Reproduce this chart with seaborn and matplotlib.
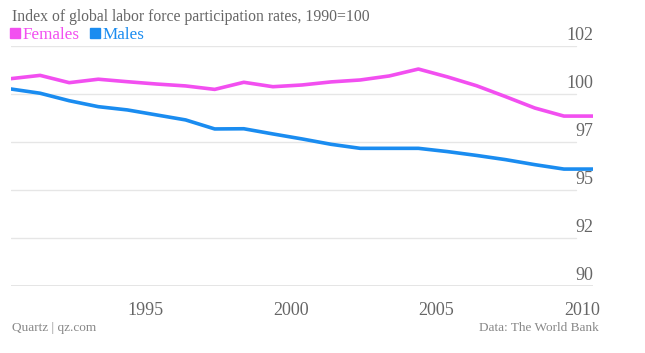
import matplotlib
matplotlib.use("Agg")
import matplotlib.pyplot as plt
from matplotlib.lines import Line2D
import pandas as pd
import seaborn as sns

years = list(range(1991, 2012))
females = [100.80, 100.97, 100.59, 100.77, 100.64, 100.52, 100.42, 100.24, 100.61, 100.38,
           100.47, 100.63, 100.73, 100.94, 101.30, 100.89, 100.43, 99.86, 99.27, 98.85, 98.85]
males = [100.26, 100.04, 99.65, 99.34, 99.17, 98.91, 98.65, 98.18, 98.19, 97.92,
         97.66, 97.38, 97.17, 97.17, 97.17, 97.00, 96.80, 96.58, 96.32, 96.09, 96.09]
grid_vals = [102.5, 100, 97.5, 95, 92.5, 90]
grid_labels = ["102", "100", "97", "95", "92", "90"]
xticks = [1995, 2000, 2005, 2010]

pink = "#f24ff0"
blue = "#1a8cf0"
grey = "#666666"

df = pd.DataFrame({"year": years * 2,
                   "value": females + males,
                   "sex": ["Females"] * len(years) + ["Males"] * len(years)})

sns.set_theme(style="white")
plt.rcParams["font.family"] = ["Liberation Serif", "DejaVu Sans"]

fig = plt.figure(figsize=(6.45, 3.53), dpi=100)
ax = fig.add_axes([11 / 645, 1 - 286 / 353, (593 - 11) / 645, (286 - 46) / 353])

for v in grid_vals[:-1]:
    ax.axhline(v, xmin=0, xmax=0.97, color="#e6e6e6", lw=1, zorder=0)
ax.axhline(90, color="#e0e0e0", lw=1.2, zorder=0)

sns.lineplot(data=df, x="year", y="value", hue="sex", palette=[pink, blue],
             lw=2.6, ax=ax, legend=False)

ax.set_xlim(1991, 2011)
ax.set_ylim(90, 102.5)
for s in ax.spines.values():
    s.set_visible(False)
ax.set_xticks(xticks)
ax.set_xticklabels([])
ax.set_yticks([])
ax.set_xlabel("")
ax.set_ylabel("")
ax.tick_params(axis="x", length=4, width=0.6, color="#e0e0e0", direction="out", pad=0)

for x in xticks:
    ax.text(x, -0.065, str(x), transform=ax.get_xaxis_transform(), ha="left", va="top",
            fontsize=13, color=grey)

for v, lab in zip(grid_vals, grid_labels):
    ax.text(1.0, v + 0.12, lab, transform=ax.get_yaxis_transform(), ha="right", va="bottom",
            fontsize=13, color=grey)

fig.text(12 / 645, 1 - 17 / 353, "Index of global labor force participation rates, 1990=100",
         ha="left", va="center", fontsize=11.3, color=grey)

handles = [Line2D([], [], marker="s", ls="none", color=pink, markersize=7.5),
           Line2D([], [], marker="s", ls="none", color=blue, markersize=7.5)]
leg = fig.legend(handles, ["Females", "Males"], loc="center left",
                 bbox_to_anchor=(9 / 645, 1 - 35 / 353), ncol=2, frameon=False,
                 borderpad=0, borderaxespad=0,
                 handletextpad=0.05, columnspacing=0.55, handlelength=0.75, fontsize=12.3)
for t, c in zip(leg.get_texts(), [pink, blue]):
    t.set_color(c)

fig.text(12 / 645, 1 - 328 / 353, "Quartz | qz.com", ha="left", va="center",
         fontsize=9.5, color="#888888")
fig.text(599 / 645, 1 - 328 / 353, "Data: The World Bank", ha="right", va="center",
         fontsize=9.5, color="#888888")

fig.savefig("out.png", dpi=100)
